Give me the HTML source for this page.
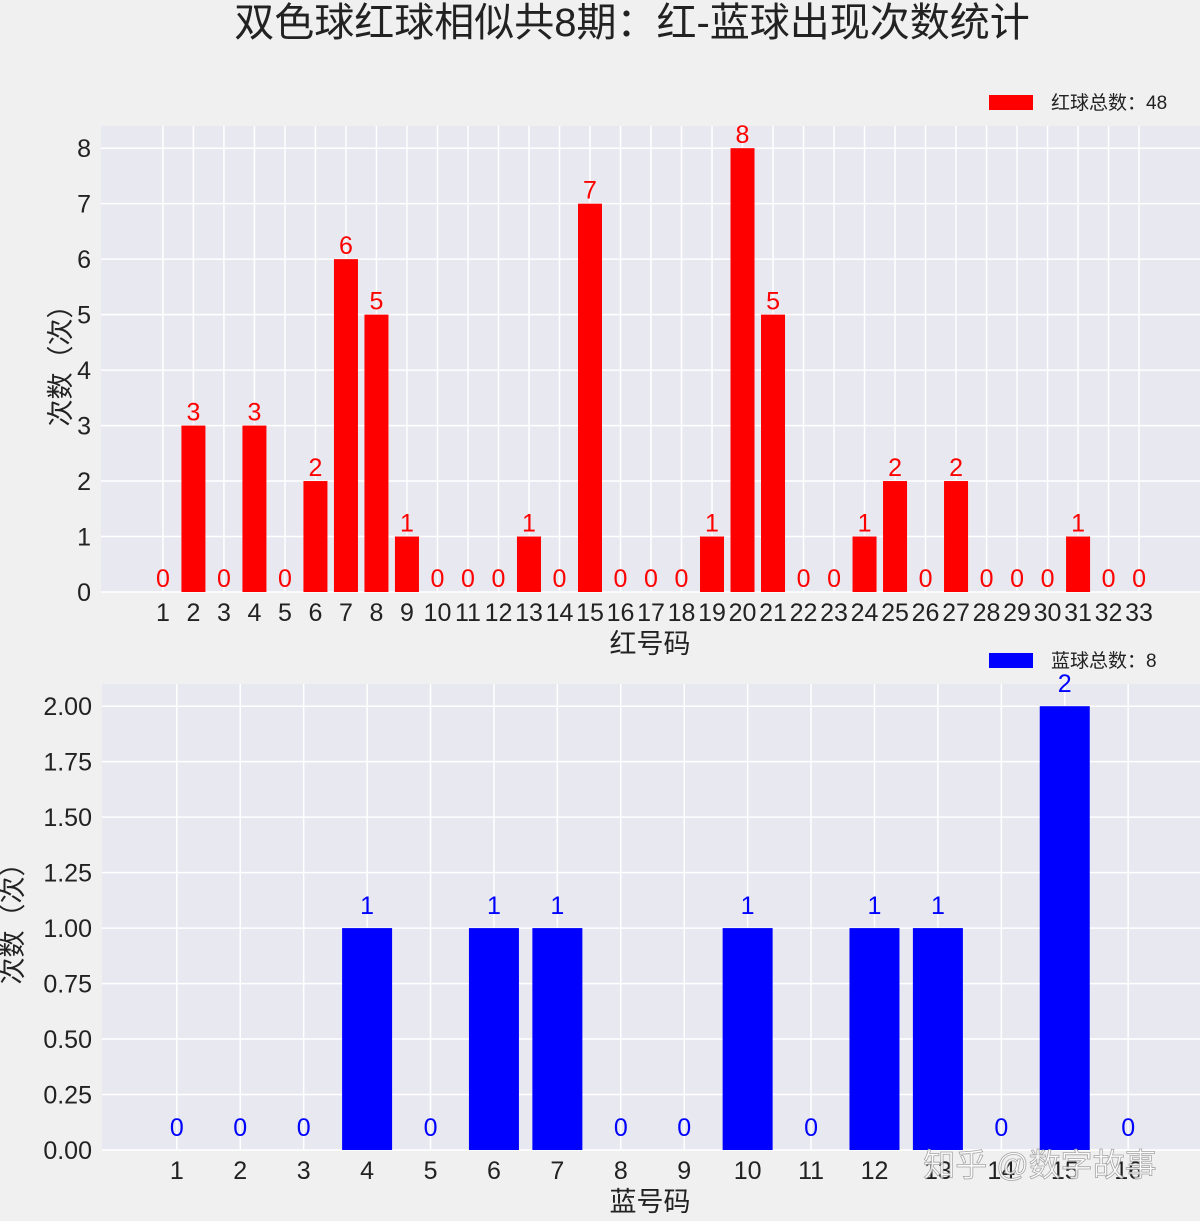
<!DOCTYPE html>
<html><head><meta charset="utf-8"><style>
body{margin:0;background:#f0f0f0;width:1200px;height:1216px;overflow:hidden;font-family:"Liberation Sans","Noto Sans CJK SC",sans-serif}
</style></head><body>
<svg id="c" width="1200" height="1216" xmlns="http://www.w3.org/2000/svg" font-family="'Liberation Sans','Noto Sans CJK SC',sans-serif">
<text x="632" y="36" font-size="40" text-anchor="middle" fill="#222">双色球红球相似共8期：红-蓝球出现次数统计</text>
<g id="top"></g><g id="bot"></g>
<text x="1040" y="1176" font-size="32" text-anchor="middle" fill="#fff" stroke="#999" stroke-width="0.8" opacity="0.85">知乎 @数字故事</text>
</svg>
<script>
const redCats=[1,2,3,4,5,6,7,8,9,10,11,12,13,14,15,16,17,18,19,20,21,22,23,24,25,26,27,28,29,30,31,32,33];
const redVals=[0,3,0,3,0,2,6,5,1,0,0,0,1,0,7,0,0,0,1,8,5,0,0,1,2,0,2,0,0,0,1,0,0];
const redTicks=[0,1,2,3,4,5,6,7,8];
const blueCats=[1,2,3,4,5,6,7,8,9,10,11,12,13,14,15,16];
const blueVals=[0,0,0,1,0,1,1,0,0,1,0,1,1,0,2,0];
const blueTicks=["0.00","0.25","0.50","0.75","1.00","1.25","1.50","1.75","2.00"];
const NS="http://www.w3.org/2000/svg";
function mk(p,t,a){const e=document.createElementNS(NS,t);for(const k in a)e.setAttribute(k,a[k]);p.appendChild(e);return e;}
function draw(g,o){
  const bg=mk(g,'rect',{x:o.x0,y:o.y0,width:o.x1-o.x0,height:o.y1-o.y0,fill:'#e8e8f0'});
  
  
  const n=o.cats.length;
  const xs=c=>o.x0+(c-o.xmin)/(o.xmax-o.xmin)*(o.x1-o.x0);
  const ys=v=>o.y1-(v/o.ymax)*(o.y1-o.y0);
  o.ticks.forEach(t=>{const v=parseFloat(t);const y=ys(v);
    mk(g,'line',{x1:o.x0,x2:o.x1,y1:y,y2:y,stroke:'#fff','stroke-width':1.5});
    const tx=mk(g,'text',{x:o.x0-10,y:y+9,'font-size':25,'text-anchor':'end',fill:'#222'});tx.textContent=t;
    
    });
  o.cats.forEach((c,i)=>{const x=xs(c);
    mk(g,'line',{x1:x,x2:x,y1:o.y0,y2:o.y1,stroke:'#fff','stroke-width':1.5});
    const tx=mk(g,'text',{x:x,y:o.y1+29,'font-size':25,'text-anchor':'middle',fill:'#222'});tx.textContent=c;
    
    });
  o.cats.forEach((c,i)=>{const v=o.vals[i];const x=xs(c);
    if(v>0){const r=mk(g,'rect',{x:x-o.bw/2,y:ys(v),width:o.bw,height:ys(0)-ys(v),fill:o.col});
      
      }
    const t=mk(g,'text',{x:x,y:ys(v)-o.lo,'font-size':25,'text-anchor':'middle',fill:o.col});t.textContent=v;
    
    });
  const xl=mk(g,'text',{x:650,y:o.y1+61,'font-size':27,'text-anchor':'middle',fill:'#222'});xl.textContent=o.xlab;
  
  
  const yl=mk(g,'text',{x:0,y:0,'font-size':27,'text-anchor':'middle',fill:'#222',transform:`translate(${o.ylx},${(o.y0+o.y1)/2}) rotate(-90)`});yl.textContent='次数（次）';
  
  
  const lr=mk(g,'rect',{x:989,y:o.ly-7,width:44,height:15,fill:o.col});
  
  
  const lt=mk(g,'text',{x:1051,y:o.ly+7,'font-size':19,fill:'#222'});lt.textContent=o.leg;
  
  
}
draw(document.getElementById('top'),{nm:'red',x0:101,x1:1201,y0:126,y1:592,xmin:-1.03,xmax:35.03,ymax:8.4,cats:redCats,vals:redVals,ticks:redTicks,bw:24,col:'#ff0000',lo:5,xlab:'红号码',ylx:70,ly:102,leg:'红球总数：48'});
draw(document.getElementById('bot'),{nm:'blue',x0:102,x1:1203,y0:684,y1:1150,xmin:-0.18,xmax:17.18,ymax:2.1,cats:blueCats,vals:blueVals,ticks:blueTicks,bw:50,col:'#0000ff',lo:14,xlab:'蓝号码',ylx:22,ly:660,leg:'蓝球总数：8'});
</script>
</body></html>
